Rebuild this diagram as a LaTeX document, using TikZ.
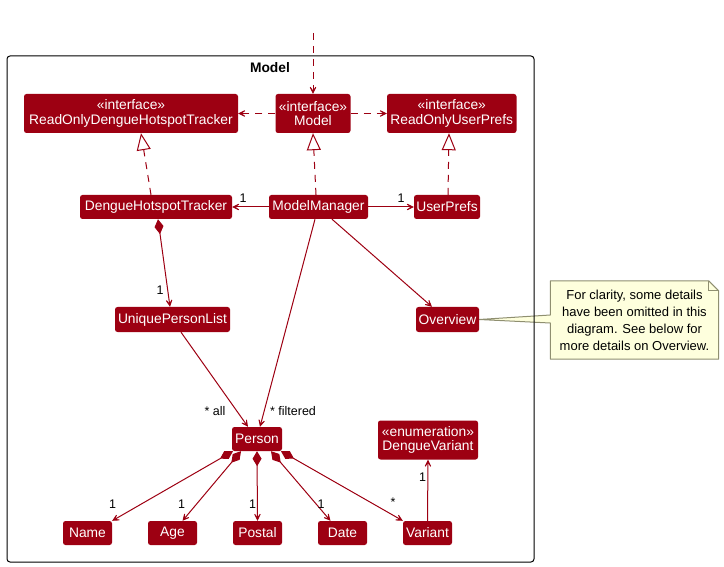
\documentclass[tikz,border=0pt]{standalone}
\usepackage{fontspec}
\setmainfont{Liberation Sans}
\usetikzlibrary{arrows.meta,calc,backgrounds}
\definecolor{mred}{HTML}{9D0012}
\definecolor{notefill}{HTML}{FEFFDD}
\definecolor{noteline}{HTML}{8F8F70}
\begin{document}
\begin{tikzpicture}[x=1pt,y=-1pt,
  cls/.style={fill=mred, text=white, rounded corners=2.5pt, inner sep=0pt, align=center,
    font=\fontsize{13.8}{14.5}\selectfont},
  lbl/.style={font=\fontsize{12.5}{14}\selectfont, inner sep=0pt, text=black},
  conn/.style={draw=mred, line width=1pt},
  opentip/.style={-{Stealth[length=11pt,width=11pt,inset=7.5pt]}},
  dep/.style={conn, dash pattern=on 7pt off 6pt, opentip},
  assoc/.style={conn, opentip},
  realize/.style={conn, dash pattern=on 7pt off 6pt, -{Triangle[length=17pt,width=14pt,fill=white]}},
  comp/.style={conn, {Diamond[length=15pt,width=9pt]}-{Stealth[length=11pt,width=11pt,inset=7.5pt]}}
]
\useasboundingbox (0,0) rectangle (724,567);

% package frame
\node[draw=black, line width=1pt, rounded corners=3pt, minimum width=527pt, minimum height=506pt, inner sep=0pt] (pkg) at (270.5,309) {};
\node[font=\bfseries\fontsize{13.8}{15}\selectfont, inner sep=0pt] (pkgtitle) at (270,68) {Model};

% classes
\node[cls, minimum width=214pt, minimum height=39pt] (rodht) at (131,113.5) {«interface»\\ReadOnlyDengueHotspotTracker};
\node[cls, minimum width=75pt, minimum height=39pt] (mdl) at (313,113.5) {«interface»\\Model};
\node[cls, minimum width=129.5pt, minimum height=39pt] (roup) at (451.75,113.5) {«interface»\\ReadOnlyUserPrefs};

\node[cls, minimum width=152pt, minimum height=24pt] (dht) at (156,207) {DengueHotspotTracker};
\node[cls, minimum width=99pt, minimum height=24pt] (mm) at (318.5,207) {ModelManager};
\node[cls, minimum width=66pt, minimum height=24pt] (up) at (447,207) {UserPrefs};

\node[cls, minimum width=115pt, minimum height=25pt] (upl) at (172.5,319.5) {UniquePersonList};
\node[cls, minimum width=63pt, minimum height=25pt] (ov) at (447.5,319.5) {Overview};

\node[cls, minimum width=50pt, minimum height=24pt] (person) at (257,439) {Person};
\node[cls, minimum width=100pt, minimum height=39pt] (dv) at (428,440) {«enumeration»\\DengueVariant};

\node[cls, minimum width=49pt, minimum height=24pt] (name) at (87.5,533) {Name};
\node[cls, minimum width=49pt, minimum height=24pt] (age) at (172.5,533) {Age};
\node[cls, minimum width=49pt, minimum height=24pt] (postal) at (257.5,533) {Postal};
\node[cls, minimum width=49pt, minimum height=24pt] (date) at (342.5,533) {Date};
\node[cls, minimum width=49pt, minimum height=24pt] (variant) at (427.5,533) {Variant};

% note
\node[inner sep=0pt, minimum width=168pt, minimum height=78pt, align=center,
  font=\fontsize{13}{17}\selectfont] (note) at (634.5,320)
  {For clarity, some details\\have been omitted in this\\diagram. See below for\\more details on Overview.};
\begin{scope}[on background layer]
\filldraw[fill=notefill, draw=noteline, line width=1pt, line join=round]
  (note.north west) -- ([xshift=-10pt]note.north east) -- ([yshift=-10pt]note.north east)
  -- (note.south east) -- (note.south west) -- ([yshift=-3pt]note.west) -- (ov.east)
  -- ([yshift=5pt]note.west) -- cycle;
\draw[noteline, line width=1pt] ([xshift=-10pt]note.north east) -- ([xshift=-10pt,yshift=-10pt]note.north east) -- ([yshift=-10pt]note.north east);
\end{scope}

% incoming dependency from outside
\coordinate (topin) at (313,33);
\draw[dep] (topin) -- (mdl.north);

% dependencies
\draw[dep] (mdl.west) -- (rodht.east);
\draw[dep] (mdl.east) -- (roup.west);

% realizations
\draw[realize] ([xshift=-5pt]dht.north) -- ([xshift=10pt]rodht.south);
\draw[realize] ([xshift=-2.5pt]mm.north) -- (mdl.south);
\draw[realize] ([xshift=1pt]up.north) -- ([xshift=-2.75pt]roup.south);

% associations
\draw[assoc] (mm.west) -- (dht.east);
\node[lbl] (l1) at (243,198) {1};
\draw[assoc] (mm.east) -- (up.west);
\node[lbl] (l2) at (401,198) {1};
\draw[comp] ([xshift=2pt]dht.south) -- ([xshift=-2.5pt]upl.north);
\node[lbl] (l3) at (160,290) {1};
\draw[assoc] ([xshift=-3.5pt]mm.south) -- ([xshift=3pt]person.north);
\node[lbl] (l4) at (293,411) {* filtered};
\draw[assoc] ([xshift=13.5pt]mm.south) -- ([xshift=-15.5pt]ov.north);
\draw[assoc] ([xshift=8.5pt]upl.south) -- ([xshift=-9pt]person.north);
\node[lbl] (l5) at (215,411) {* all};

% compositions from Person
\draw[comp] ([xshift=-24pt]person.south) -- (name.north east);
\node[lbl] (l6) at (112.5,504) {1};
\draw[comp] ([xshift=-16pt]person.south) -- ([xshift=10pt]age.north);
\node[lbl] (l7) at (181.5,504) {1};
\draw[comp] (person.south) -- (postal.north);
\node[lbl] (l8) at (252.5,504) {1};
\draw[comp] ([xshift=14pt]person.south) -- ([xshift=-12pt]date.north);
\node[lbl] (l9) at (321,504) {1};
\draw[comp] ([xshift=24pt]person.south) -- (variant.north west);
\node[lbl] (l10) at (393,502) {*};

\draw[assoc] (variant.north) -- (dv.south);
\node[lbl] (l11) at (422.5,477) {1};
\end{tikzpicture}
\end{document}
